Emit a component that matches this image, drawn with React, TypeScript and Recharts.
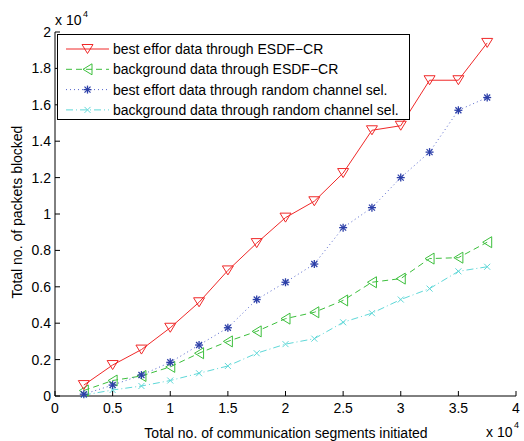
import React from 'react';
import { LineChart, Line, XAxis, YAxis } from 'recharts';

const segments = [2500, 5000, 7500, 10000, 12500, 15000, 17500, 20000, 22500, 25000, 27500, 30000, 32500, 35000, 37500];
const bestEffortEsdf = [600, 1700, 2550, 3750, 5150, 6900, 8400, 9800, 10700, 12250, 14600, 14850, 17350, 17350, 19400];
const backgroundEsdf = [300, 850, 1100, 1600, 2350, 3000, 3550, 4250, 4600, 5250, 6250, 6450, 7550, 7600, 8450];
const bestEffortRandom = [100, 600, 1150, 1850, 2800, 3750, 5300, 6250, 7250, 9250, 10350, 12000, 13400, 15700, 16400];
const backgroundRandom = [50, 330, 550, 850, 1250, 1650, 2350, 2850, 3150, 4050, 4550, 5300, 5900, 6850, 7100];

const xTicks = [0, 5000, 10000, 15000, 20000, 25000, 30000, 35000, 40000];
const xTickLabels = ['0', '0.5', '1', '1.5', '2', '2.5', '3', '3.5', '4'];
const yTicks = [0, 2000, 4000, 6000, 8000, 10000, 12000, 14000, 16000, 18000, 20000];
const yTickLabels = ['0', '0.2', '0.4', '0.6', '0.8', '1', '1.2', '1.4', '1.6', '1.8', '2'];

const seriesNames = [
  'best effor data through ESDF\u2212CR',
  'background data through ESDF\u2212CR',
  'best effort data through random channel sel.',
  'background data through random channel sel.',
];

const data = segments.map((s, i) => ({
  seg: s,
  beEsdf: bestEffortEsdf[i],
  bgEsdf: backgroundEsdf[i],
  beRand: bestEffortRandom[i],
  bgRand: backgroundRandom[i],
}));

const FONT = '"Liberation Sans", Arial, Helvetica, sans-serif';
const RED = '#f02828';
const GREEN = '#3cbf3c';
const BLUE_M = '#2c3fa8';
const BLUE_L = '#5566cc';
const CYAN = '#5fd8d8';
const TL = 5;

const labelFor = (ticks: number[], labels: string[], v: number) => {
  const i = ticks.indexOf(v);
  return i >= 0 ? labels[i] : String(v);
};

const BottomTick = (p: any) => (
  <g>
    <line x1={p.x} y1={p.y} x2={p.x} y2={p.y - TL} stroke="#000" strokeWidth={1} />
    <text x={p.x} y={p.y + 17} textAnchor="middle" fontSize={14} fontFamily={FONT} fill="#000">
      {labelFor(xTicks, xTickLabels, p.payload.value)}
    </text>
  </g>
);
const TopTick = (p: any) => (
  <line x1={p.x} y1={p.y} x2={p.x} y2={p.y + TL} stroke="#000" strokeWidth={1} />
);
const LeftTick = (p: any) => (
  <g>
    <line x1={p.x} y1={p.y} x2={p.x + TL} y2={p.y} stroke="#000" strokeWidth={1} />
    <text x={p.x - 4} y={p.y + 5} textAnchor="end" fontSize={14} fontFamily={FONT} fill="#000">
      {labelFor(yTicks, yTickLabels, p.payload.value)}
    </text>
  </g>
);
const RightTick = (p: any) => (
  <line x1={p.x} y1={p.y} x2={p.x - TL} y2={p.y} stroke="#000" strokeWidth={1} />
);

const TriDown = ({ cx, cy }: any) => (
  <polygon points={`${cx - 5.5},${cy - 4.5} ${cx + 5.5},${cy - 4.5} ${cx},${cy + 4.5}`} fill="none" stroke={RED} strokeWidth={1} />
);
const TriLeft = ({ cx, cy }: any) => (
  <polygon points={`${cx + 4.5},${cy - 5.5} ${cx + 4.5},${cy + 5.5} ${cx - 4.5},${cy}`} fill="none" stroke={GREEN} strokeWidth={1} />
);
const Star = ({ cx, cy }: any) => (
  <g stroke={BLUE_M} strokeWidth={1.3}>
    <line x1={cx - 4} y1={cy} x2={cx + 4} y2={cy} />
    <line x1={cx} y1={cy - 4} x2={cx} y2={cy + 4} />
    <line x1={cx - 3} y1={cy - 3} x2={cx + 3} y2={cy + 3} />
    <line x1={cx - 3} y1={cy + 3} x2={cx + 3} y2={cy - 3} />
  </g>
);
const XMark = ({ cx, cy }: any) => (
  <g stroke={CYAN} strokeWidth={1}>
    <line x1={cx - 3} y1={cy - 3} x2={cx + 3} y2={cy + 3} />
    <line x1={cx - 3} y1={cy + 3} x2={cx + 3} y2={cy - 3} />
  </g>
);

const mk = (C: any) => (p: any) => <C key={`m-${p.index}`} cx={p.cx} cy={p.cy} />;

const legendRows = [
  { color: RED, dash: undefined as string | undefined, M: TriDown },
  { color: GREEN, dash: '6 4', M: TriLeft },
  { color: BLUE_L, dash: '1 3', M: Star },
  { color: CYAN, dash: '7 3 1 3', M: XMark },
];

export default function App() {
  return (
    <div style={{ position: 'absolute', left: 0, top: 0, width: 524, height: 441, background: '#fff' }}>
      <LineChart width={524} height={441} data={data} margin={{ top: 32, right: 8, bottom: 0, left: 0 }}>
        <XAxis xAxisId="bottom" dataKey="seg" type="number" domain={[0, 40000]} ticks={xTicks}
          height={45} tickSize={0} tickMargin={0} tickLine={false} axisLine={{ stroke: '#000' }}
          tick={BottomTick} interval={0} />
        <XAxis xAxisId="top" orientation="top" dataKey="seg" type="number" domain={[0, 40000]} ticks={xTicks}
          height={0} tickSize={0} tickMargin={0} tickLine={false} axisLine={{ stroke: '#000' }}
          tick={TopTick} interval={0} />
        <YAxis yAxisId="left" type="number" domain={[0, 20000]} ticks={yTicks} width={55}
          tickSize={0} tickMargin={0} tickLine={false} axisLine={{ stroke: '#000' }} tick={LeftTick} interval={0} />
        <YAxis yAxisId="right" orientation="right" type="number" domain={[0, 20000]} ticks={yTicks} width={0}
          tickSize={0} tickMargin={0} tickLine={false} axisLine={{ stroke: '#000' }} tick={RightTick} interval={0} />
        <Line xAxisId="bottom" yAxisId="left" dataKey="bgRand" stroke={CYAN} strokeWidth={1} strokeDasharray="7 3 1 3"
          dot={mk(XMark)} isAnimationActive={false} />
        <Line xAxisId="bottom" yAxisId="left" dataKey="bgEsdf" stroke={GREEN} strokeWidth={1} strokeDasharray="6 4"
          dot={mk(TriLeft)} isAnimationActive={false} />
        <Line xAxisId="bottom" yAxisId="left" dataKey="beRand" stroke={BLUE_L} strokeWidth={1} strokeDasharray="1 3"
          dot={mk(Star)} isAnimationActive={false} />
        <Line xAxisId="bottom" yAxisId="left" dataKey="beEsdf" stroke={RED} strokeWidth={1}
          dot={mk(TriDown)} isAnimationActive={false} />
      </LineChart>
      <svg width={524} height={441} style={{ position: 'absolute', left: 0, top: 0, pointerEvents: 'none' }}>
        <text x={55} y={25} fontSize={14} fontFamily={FONT} fill="#000">x 10</text>
        <text x={83} y={17} fontSize={9} fontFamily={FONT} fill="#000">4</text>
        <text x={486} y={437} fontSize={14} fontFamily={FONT} fill="#000">x 10</text>
        <text x={514} y={428} fontSize={9} fontFamily={FONT} fill="#000">4</text>
        <text x={286} y={438} textAnchor="middle" fontSize={14} fontFamily={FONT} fill="#000">
          Total no. of communication segments initiated
        </text>
        <text x={22} y={212} transform="rotate(-90 22 212)" textAnchor="middle" fontSize={14} fontFamily={FONT} fill="#000">
          Total no. of packets blocked
        </text>
      </svg>
      <div style={{ position: 'absolute', left: 57, top: 34, width: 351, height: 84, border: '1px solid #000', background: '#fff' }}>
        <svg width={351} height={84} style={{ display: 'block' }}>
          {legendRows.map((r, i) => {
            const cy = 14 + i * 20.3;
            const M = r.M;
            return (
              <g key={i}>
                <line x1={8} y1={cy} x2={51} y2={cy} stroke={r.color} strokeWidth={1} strokeDasharray={r.dash} />
                <M cx={29.5} cy={cy} />
                <text x={55} y={cy + 5} fontSize={14} fontFamily={FONT} fill="#000">{seriesNames[i]}</text>
              </g>
            );
          })}
        </svg>
      </div>
    </div>
  );
}
